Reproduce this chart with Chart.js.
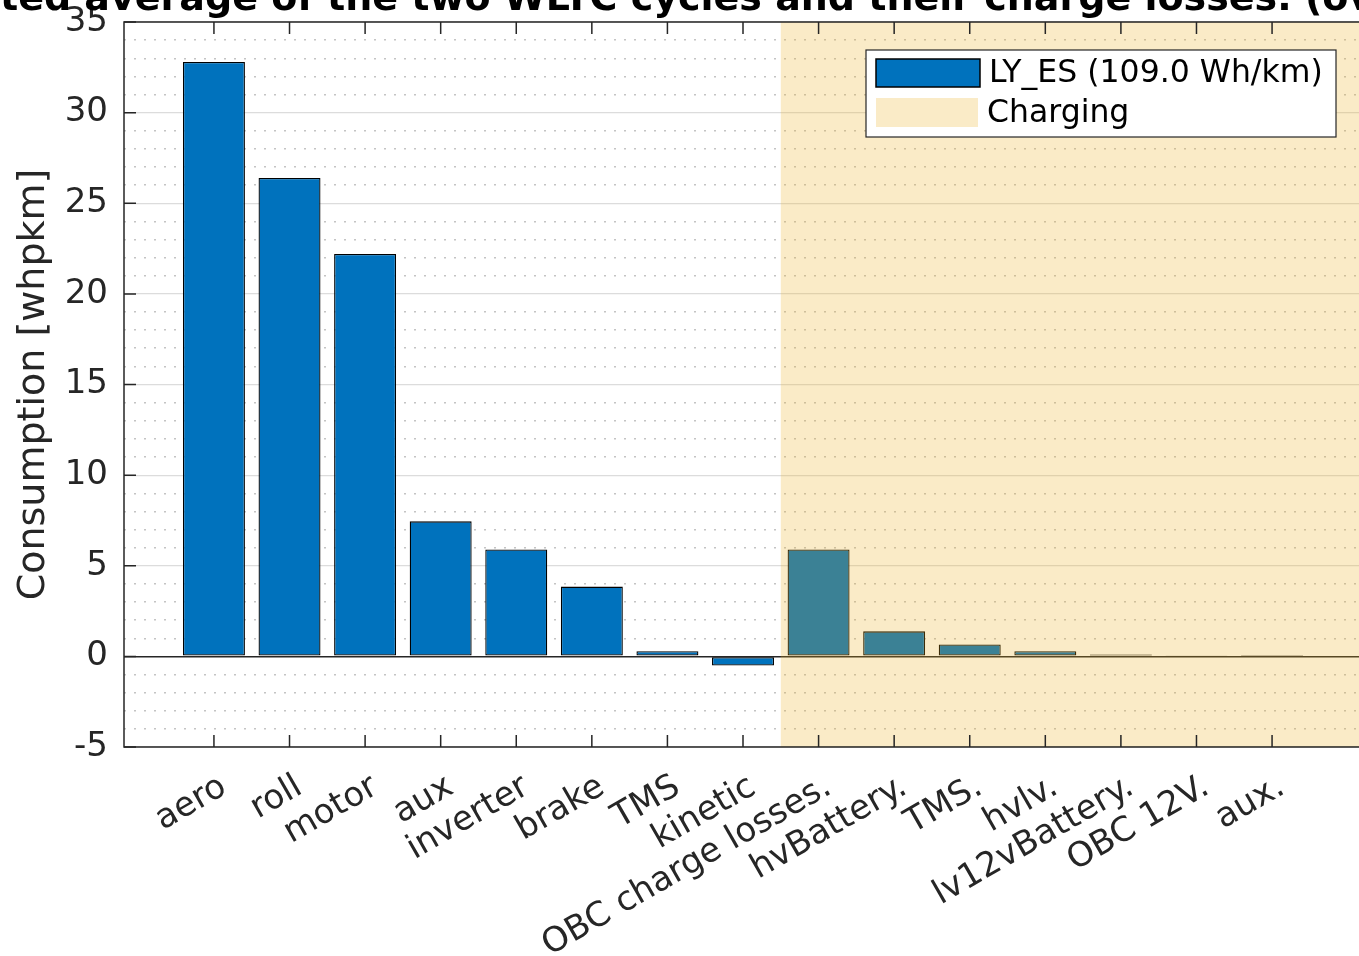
<!DOCTYPE html>
<html lang="en">
  <head>
    <meta charset="UTF-8" />
    <meta name="viewport" content="width=device-width, initial-scale=1.0" />
    <script src="https://cdn.jsdelivr.net/npm/chart.js"></script>
    <title>Consumption</title>
    <style>
      html, body { margin: 0; padding: 0; overflow: hidden; background: #ffffff; }
      #wrap { position: relative; width: 1400px; height: 956px; }
    </style>
  </head>
  <body>
    <div id="wrap"><canvas id="myChart"></canvas></div>
    <script>
      var categories = ["aero", "roll", "motor", "aux", "inverter", "brake", "TMS", "kinetic",
        "OBC charge losses.", "hvBattery.", "TMS.", "hvlv.", "lv12vBattery.", "OBC 12V.", "aux."];
      var consumption = [32.8, 26.4, 22.2, 7.45, 5.9, 3.85, 0.28, -0.5,
        5.9, 1.38, 0.66, 0.28, 0.11, 0.03, 0.02];
      var yTicks = [-5, 0, 5, 10, 15, 20, 25, 30, 35];
      var seriesLabel = "LY_ES (109.0 Wh/km)";
      var chargingLabel = "Charging";
      var chargingFrom = 8.5;
      var yTitle = "Consumption [whpkm]";
      var plotTitle = "Weighted average of the two WLTC cycles and their charge losses. (overall)";

      var axisColor = "#262626";
      var chargingColor = "rgba(237,177,32,0.25)";
      Chart.defaults.font.family = "'DejaVu Sans'";

      // shading, axes box, inward ticks, legend and title (MATLAB look)
      var matlabLook = {
        id: "matlabLook",
        afterDatasetsDraw: function (chart) {
          var ctx = chart.ctx, a = chart.chartArea;
          var x0 = chart.scales.x.getPixelForValue(chargingFrom);
          ctx.save();
          ctx.fillStyle = chargingColor;
          ctx.fillRect(x0, a.top, a.right - x0, a.bottom - a.top);
          ctx.restore();
        },
        afterDraw: function (chart) {
          var ctx = chart.ctx, a = chart.chartArea;
          var xs = chart.scales.x, ys = chart.scales.y;
          ctx.save();
          ctx.strokeStyle = axisColor;
          ctx.lineWidth = 1.5;
          ctx.strokeRect(a.left, a.top, a.right - a.left, a.bottom - a.top);
          ctx.beginPath();
          ys.ticks.forEach(function (t) {
            var py = ys.getPixelForValue(t.value);
            ctx.moveTo(a.left, py);
            ctx.lineTo(a.left + 12, py);
          });
          xs.ticks.forEach(function (t) {
            var px = xs.getPixelForValue(t.value);
            ctx.moveTo(px, a.bottom);
            ctx.lineTo(px, a.bottom - 12);
            ctx.moveTo(px, a.top);
            ctx.lineTo(px, a.top + 12);
          });
          ctx.stroke();

          // legend
          var lx = a.right - 496, ly = a.top + 28, lw = 470, lh = 87;
          ctx.fillStyle = "#ffffff";
          ctx.fillRect(lx, ly, lw, lh);
          ctx.lineWidth = 1.2;
          ctx.strokeRect(lx, ly, lw, lh);
          ctx.fillStyle = "#0072BD";
          ctx.fillRect(lx + 10, ly + 9, 104, 28);
          ctx.strokeStyle = "#000000";
          ctx.lineWidth = 1.5;
          ctx.strokeRect(lx + 10, ly + 9, 104, 28);
          ctx.fillStyle = chargingColor;
          ctx.fillRect(lx + 10, ly + 48, 102, 29);
          ctx.fillStyle = "#000000";
          ctx.font = "31.5px 'DejaVu Sans'";
          ctx.textBaseline = "middle";
          ctx.textAlign = "left";
          ctx.fillText(chart.data.datasets[0].label, lx + 123, ly + 24);
          ctx.fillText(chargingLabel, lx + 121, ly + 64);

          // title, cut by the top of the picture
          ctx.font = "bold 38px 'DejaVu Sans'";
          ctx.textBaseline = "alphabetic";
          ctx.fillText(plotTitle, -ctx.measureText("Weigh").width, 10);
          ctx.restore();
        }
      };

      var ctx = document.getElementById("myChart");
      var myChart = new Chart(ctx, {
        type: "bar",
        data: {
          datasets: [
            {
              label: seriesLabel,
              data: categories.map(function (c, i) {
                return { x: i + 1, y: consumption[i] };
              }),
              backgroundColor: "#0072BD",
              borderColor: "#000000",
              borderWidth: 1.3,
              borderSkipped: false,
              barPercentage: 0.82,
              categoryPercentage: 1,
            },
          ],
        },
        options: {
          responsive: true,
          maintainAspectRatio: false,
          animation: false,
          layout: { padding: { left: 0, top: 22, right: 38, bottom: 0 } },
          plugins: {
            legend: { display: false },
            tooltip: { enabled: false },
          },
          scales: {
            x: {
              type: "linear",
              offset: false,
              min: -0.19,
              max: 16.19,
              afterBuildTicks: function (axis) {
                axis.ticks = categories.map(function (c, i) {
                  return { value: i + 1 };
                });
              },
              afterFit: function (axis) {
                axis.height = 209;
                axis.paddingLeft = 0;
                axis.paddingRight = 0;
              },
              grid: { display: false, drawTicks: false },
              border: { display: false },
              ticks: {
                autoSkip: false,
                minRotation: 30,
                maxRotation: 30,
                padding: 20,
                labelOffset: 10,
                color: axisColor,
                font: { size: 34 },
                callback: function (v) {
                  return categories[v - 1];
                },
              },
            },
            y: {
              position: "left",
              min: -5,
              max: 35,
              afterBuildTicks: function (axis) {
                axis.ticks = yTicks.map(function (v) {
                  return { value: v };
                });
              },
              afterFit: function (axis) {
                axis.width = 124;
                axis.paddingTop = 0;
                axis.paddingBottom = 0;
              },
              grid: {
                drawTicks: false,
                color: function (c) {
                  return c.tick && c.tick.value === 0 ? axisColor : "#dcdcdc";
                },
                lineWidth: function (c) {
                  return c.tick && c.tick.value === 0 ? 1.6 : 1.2;
                },
              },
              border: { display: false },
              ticks: { color: axisColor, font: { size: 34 }, padding: 16 },
              title: {
                display: true,
                text: yTitle,
                color: axisColor,
                font: { size: 38 },
                padding: { top: 11, bottom: 0 },
              },
            },
            yMinor: {
              position: "left",
              min: -5,
              max: 35,
              afterFit: function (axis) {
                axis.width = 0;
                axis.paddingTop = 0;
                axis.paddingBottom = 0;
              },
              ticks: { display: false, stepSize: 1 },
              grid: {
                drawTicks: false,
                lineWidth: 1.5,
                color: function (c) {
                  return c.tick && c.tick.value % 5 === 0 ? "rgba(0,0,0,0)" : "#c4c4c4";
                },
              },
              border: { display: false, dash: [2, 8] },
            },
          },
        },
        plugins: [matlabLook],
      });
    </script>
  </body>
</html>
